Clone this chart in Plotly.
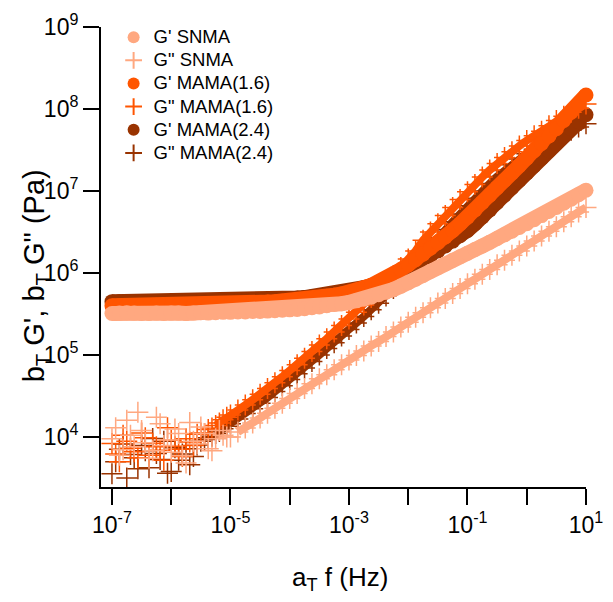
import plotly.graph_objects as go

# Reduced frequency a_T f (Hz)
FREQ = [
    1.000e-7, 1.334e-7, 1.778e-7, 2.371e-7, 3.162e-7, 4.217e-7, 5.623e-7, 7.499e-7,
    1.000e-6, 1.334e-6, 1.778e-6, 2.371e-6, 3.162e-6, 4.217e-6, 5.623e-6, 7.499e-6,
    1.000e-5, 1.334e-5, 1.778e-5, 2.371e-5, 3.162e-5, 4.217e-5, 5.623e-5, 7.499e-5,
    1.000e-4, 1.334e-4, 1.778e-4, 2.371e-4, 3.162e-4, 4.217e-4, 5.623e-4, 7.499e-4,
    1.000e-3, 1.334e-3, 1.778e-3, 2.371e-3, 3.162e-3, 4.217e-3, 5.623e-3, 7.499e-3,
    1.000e-2, 1.334e-2, 1.778e-2, 2.371e-2, 3.162e-2, 4.217e-2, 5.623e-2, 7.499e-2,
    1.000e-1, 1.334e-1, 1.778e-1, 2.371e-1, 3.162e-1, 4.217e-1, 5.623e-1, 7.499e-1,
    1.000e0, 1.334e0, 1.778e0, 2.371e0, 3.162e0, 4.217e0, 5.623e0, 7.499e0,
    1.000e1,
]

# Extra low-frequency points from the overlapping (noisy) G'' runs
FREQ_LOW = [
    1.155e-7, 1.540e-7, 2.054e-7, 2.738e-7, 3.652e-7, 4.870e-7, 6.494e-7, 8.660e-7,
    1.155e-6, 1.540e-6, 2.054e-6, 2.738e-6, 3.652e-6, 4.870e-6, 6.494e-6, 8.660e-6,
]

# G' SNMA (Pa)
GP_SNMA = [
    3.20e5, 3.24e5, 3.27e5, 3.24e5, 3.20e5, 3.20e5, 3.24e5, 3.20e5,
    3.24e5, 3.24e5, 3.20e5, 3.24e5, 3.27e5, 3.24e5, 3.27e5, 3.31e5,
    3.31e5, 3.35e5, 3.35e5, 3.39e5, 3.39e5, 3.43e5, 3.47e5, 3.51e5,
    3.55e5, 3.59e5, 3.67e5, 3.76e5, 3.85e5, 3.98e5, 4.12e5, 4.22e5,
    4.37e5, 4.57e5, 4.79e5, 5.07e5, 5.43e5, 5.82e5, 6.31e5, 6.92e5,
    7.59e5, 8.41e5, 9.33e5, 1.05e6, 1.16e6, 1.29e6, 1.43e6, 1.58e6,
    1.74e6, 1.93e6, 2.14e6, 2.37e6, 2.63e6, 2.92e6, 3.24e6, 3.59e6,
    3.98e6, 4.47e6, 5.01e6, 5.62e6, 6.31e6, 7.08e6, 7.94e6, 9.02e6,
    1.02e7,
]

# G'' SNMA (Pa)
GPP_SNMA = [
    9.5e3, 6.0e3, 1.6e4, 7.6e3, 1.2e4, 5.5e3, 1.74e4, 7.9e3,
    6.5e3, 1.1e4, 4.8e3, 8.9e3, 1.32e4, 7.2e3, 9.5e3, 1.05e4,
    1.00e4, 1.15e4, 1.29e4, 1.48e4, 1.70e4, 1.95e4, 2.24e4, 2.57e4,
    2.95e4, 3.39e4, 3.89e4, 4.47e4, 5.13e4, 5.75e4, 6.61e4, 7.59e4,
    8.71e4, 9.89e4, 1.12e5, 1.29e5, 1.46e5, 1.68e5, 1.91e5, 2.19e5,
    2.51e5, 2.88e5, 3.27e5, 3.76e5, 4.32e5, 4.90e5, 5.62e5, 6.46e5,
    7.41e5, 8.41e5, 9.66e5, 1.10e6, 1.26e6, 1.43e6, 1.64e6, 1.86e6,
    2.14e6, 2.45e6, 2.82e6, 3.24e6, 3.67e6, 4.22e6, 4.84e6, 5.56e6,
    6.31e6,
]
GPP_SNMA_LOW = [
    1.3e4, 7.0e3, 1.05e4, 2.0e4, 8.5e3, 6.8e3, 1.45e4, 9.2e3,
    1.25e4, 5.9e3, 1.5e4, 8.2e3, 1.1e4, 6.8e3, 1.2e4, 1.0e4,
]

# G' MAMA(1.6) (Pa)
GP_MAMA16 = [
    3.98e5, 3.98e5, 3.98e5, 3.98e5, 3.98e5, 3.98e5, 4.03e5, 4.03e5,
    4.03e5, 4.03e5, 4.07e5, 4.07e5, 4.07e5, 4.12e5, 4.12e5, 4.17e5,
    4.17e5, 4.22e5, 4.27e5, 4.32e5, 4.37e5, 4.42e5, 4.47e5, 4.52e5,
    4.57e5, 4.68e5, 4.79e5, 4.90e5, 5.01e5, 5.19e5, 5.37e5, 5.56e5,
    5.75e5, 6.17e5, 6.61e5, 7.08e5, 7.76e5, 8.61e5, 9.66e5, 1.10e6,
    1.26e6, 1.45e6, 1.70e6, 2.00e6, 2.34e6, 2.75e6, 3.31e6, 3.98e6,
    4.79e6, 5.89e6, 7.24e6, 8.91e6, 1.10e7, 1.35e7, 1.66e7, 2.04e7,
    2.51e7, 3.09e7, 3.80e7, 4.68e7, 5.75e7, 7.24e7, 9.12e7, 1.15e8,
    1.48e8,
]

# G'' MAMA(1.6) (Pa)
GPP_MAMA16 = [
    8.3e3, 5.0e3, 8.9e3, 6.6e3, 1.12e4, 6.0e3, 7.6e3, 5.2e3,
    9.1e3, 7.1e3, 9.5e3, 7.9e3, 1.12e4, 1.23e4, 1.38e4, 1.62e4,
    1.86e4, 2.14e4, 2.45e4, 2.85e4, 3.31e4, 3.89e4, 4.57e4, 5.43e4,
    6.46e4, 7.59e4, 9.12e4, 1.10e5, 1.32e5, 1.58e5, 1.91e5, 2.29e5,
    2.75e5, 3.31e5, 4.07e5, 5.01e5, 6.17e5, 7.59e5, 9.33e5, 1.17e6,
    1.48e6, 1.86e6, 2.51e6, 3.16e6, 3.98e6, 5.01e6, 6.31e6, 7.85e6,
    9.77e6, 1.20e7, 1.48e7, 1.80e7, 2.16e7, 2.57e7, 3.02e7, 3.55e7,
    4.12e7, 4.73e7, 5.37e7, 6.24e7, 7.24e7, 8.13e7, 9.12e7, 1.02e8,
    1.15e8,
]
GPP_MAMA16_LOW = [
    6.2e3, 1.05e4, 7.3e3, 5.6e3, 9.8e3, 8.4e3, 6.9e3, 1.3e4,
    7.7e3, 5.8e3, 8.7e3, 1.08e4, 1.1e4, 1.29e4, 1.48e4, 1.74e4,
]

# G' MAMA(2.4) (Pa)
GP_MAMA24 = [
    4.47e5, 4.47e5, 4.47e5, 4.47e5, 4.47e5, 4.47e5, 4.49e5, 4.49e5,
    4.52e5, 4.52e5, 4.52e5, 4.54e5, 4.54e5, 4.55e5, 4.57e5, 4.57e5,
    4.57e5, 4.60e5, 4.65e5, 4.68e5, 4.71e5, 4.75e5, 4.79e5, 4.84e5,
    4.90e5, 4.95e5, 5.01e5, 5.13e5, 5.25e5, 5.37e5, 5.56e5, 5.75e5,
    6.03e5, 6.31e5, 6.61e5, 7.00e5, 7.41e5, 8.04e5, 8.81e5, 9.89e5,
    1.12e6, 1.26e6, 1.43e6, 1.62e6, 1.86e6, 2.14e6, 2.45e6, 2.85e6,
    3.31e6, 3.98e6, 4.84e6, 5.89e6, 7.24e6, 8.91e6, 1.10e7, 1.35e7,
    1.66e7, 2.04e7, 2.51e7, 3.09e7, 3.80e7, 4.68e7, 5.75e7, 7.00e7,
    8.51e7,
]

# G'' MAMA(2.4) (Pa)
GPP_MAMA24 = [
    3.55e3, 7.1e3, 3.16e3, 5.6e3, 7.9e3, 4.2e3, 6.3e3, 8.9e3,
    3.8e3, 5.2e3, 7.2e3, 5.8e3, 8.9e3, 9.8e3, 1.10e4, 1.26e4,
    1.45e4, 1.66e4, 1.93e4, 2.21e4, 2.57e4, 3.02e4, 3.59e4, 4.22e4,
    5.01e4, 5.89e4, 6.92e4, 8.32e4, 1.00e5, 1.20e5, 1.41e5, 1.70e5,
    2.04e5, 2.45e5, 2.95e5, 3.55e5, 4.27e5, 5.25e5, 6.46e5, 7.94e5,
    9.77e5, 1.22e6, 1.66e6, 2.14e6, 2.69e6, 3.39e6, 4.22e6, 5.25e6,
    6.61e6, 8.13e6, 1.00e7, 1.23e7, 1.50e7, 1.78e7, 2.09e7, 2.45e7,
    2.85e7, 3.24e7, 3.63e7, 4.07e7, 4.47e7, 4.95e7, 5.50e7, 6.03e7,
    6.61e7,
]
GPP_MAMA24_LOW = [
    5.0e3, 8.2e3, 6.1e3, 4.1e3, 6.8e3, 9.6e3, 5.3e3, 3.6e3,
    7.4e3, 6.2e3, 4.6e3, 8.0e3, 9.3e3, 1.02e4, 1.17e4, 1.35e4,
]

X_TICKS = [1e-7, 1e-6, 1e-5, 1e-4, 1e-3, 1e-2, 1e-1, 1e0, 1e1]
X_LABELS = ["10<sup>-7</sup>", "", "10<sup>-5</sup>", "", "10<sup>-3</sup>", "",
            "10<sup>-1</sup>", "", "10<sup>1</sup>"]
Y_TICKS = [1e4, 1e5, 1e6, 1e7, 1e8, 1e9]
Y_LABELS = ["10<sup>4</sup>", "10<sup>5</sup>", "10<sup>6</sup>", "10<sup>7</sup>",
            "10<sup>8</sup>", "10<sup>9</sup>"]

C_SNMA = "#FFA880"
C_16 = "#FF5500"
C_24 = "#993300"

FONT = "Liberation Sans, Arial, sans-serif"


def legend_label(text):
    return "<span style='font-size:18.5px'>" + text + "</span>"


fig = go.Figure()


def add_gp(y, color, name, rank):
    # continuous band underneath the dense circles
    fig.add_trace(go.Scatter(
        x=FREQ, y=y, mode="lines", showlegend=False, hoverinfo="skip",
        cliponaxis=False, line=dict(color=color, width=15),
    ))
    fig.add_trace(go.Scatter(
        x=FREQ, y=y, mode="markers", name=legend_label(name), legendrank=rank,
        cliponaxis=False,
        marker=dict(symbol="circle", size=15, color=color, line=dict(width=0)),
    ))


def add_gpp(y, y_low, color, name, rank, start):
    fig.add_trace(go.Scatter(
        x=FREQ[start:], y=y[start:], mode="lines", showlegend=False,
        hoverinfo="skip", cliponaxis=False,
        line=dict(color=color, width=8),
    ))
    fig.add_trace(go.Scatter(
        x=FREQ + FREQ_LOW, y=y + y_low, mode="markers",
        name=legend_label(name), legendrank=rank, cliponaxis=False,
        marker=dict(symbol="cross-thin", size=15, color=color,
                    line=dict(width=1.5, color=color)),
    ))


add_gpp(GPP_MAMA24, GPP_MAMA24_LOW, C_24, 'G" MAMA(2.4)', 6, 14)
add_gp(GP_MAMA24, C_24, "G' MAMA(2.4)", 5)
add_gpp(GPP_MAMA16, GPP_MAMA16_LOW, C_16, 'G" MAMA(1.6)', 4, 14)
add_gp(GP_MAMA16, C_16, "G' MAMA(1.6)", 3)
add_gpp(GPP_SNMA, GPP_SNMA_LOW, C_SNMA, 'G" SNMA', 2, 17)
add_gp(GP_SNMA, C_SNMA, "G' SNMA", 1)

axis_common = dict(
    type="log", showgrid=False, zeroline=False, showline=True,
    linecolor="black", linewidth=2, ticks="outside", ticklen=16,
    tickwidth=2, tickcolor="black", automargin=False,
    tickfont=dict(family=FONT, size=23, color="black"),
)

fig.update_layout(
    width=613, height=602,
    margin=dict(l=93, r=35, t=19, b=123),
    paper_bgcolor="white", plot_bgcolor="white",
    showlegend=True,
    legend=dict(
        x=0.026, y=1.014, xanchor="left", yanchor="top",
        bgcolor="rgba(0,0,0,0)", borderwidth=0,
        font=dict(family=FONT, size=15.5, color="black"),
        itemsizing="constant", tracegroupgap=0,
    ),
    xaxis=dict(range=[-7.185, 1.0], tickvals=X_TICKS, ticktext=X_LABELS,
               **axis_common),
    yaxis=dict(range=[3.39, 9.0], tickvals=Y_TICKS, ticktext=Y_LABELS,
               **axis_common),
    annotations=[
        dict(text="a<sub>T</sub> f (Hz)", xref="paper", yref="paper",
             x=0.493, y=-0.198, xanchor="center", yanchor="middle",
             showarrow=False, font=dict(family=FONT, size=26, color="black")),
        dict(text="b<sub>T</sub> G', b<sub>T</sub> G\" (Pa)", xref="paper",
             yref="paper", x=-0.134, y=0.458, xanchor="center",
             yanchor="middle", textangle=-90, showarrow=False,
             font=dict(family=FONT, size=29, color="black")),
    ],
)

fig.write_html("out.html")
